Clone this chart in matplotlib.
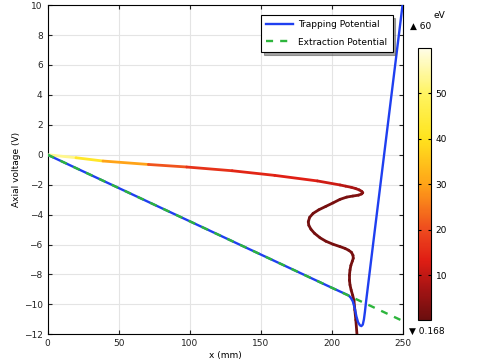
#!/usr/bin/env python3

import numpy as np
import matplotlib
matplotlib.use('Agg')
import matplotlib.pyplot as plt
from matplotlib.collections import LineCollection
from matplotlib.colors import LinearSegmentedColormap, Normalize

# trapping potential (blue)
trap_x = [0, 50, 100, 150, 200, 212, 213.5, 215, 216.3, 217.5, 218.7, 220, 221, 222, 222.8, 223.5, 224.2,
          230, 240, 250]
trap_v = [0, -2.22, -4.44, -6.66, -8.88, -9.4, -9.55, -9.8, -10.25, -10.8, -11.2, -11.4, -11.45, -11.35,
          -11.0, -10.5, -9.9, -5.4, 2.3, 10]

# extraction potential (green dashed)
extr_x = [0, 250]
extr_v = [0, -11.1]

# particle trajectory, coloured by kinetic energy (eV)
traj_x = [0, 20, 39, 71, 98, 130, 160, 190, 206, 210, 214, 217, 219.5, 221.3, 222, 221.2, 219, 215,
          210.7, 206, 201, 196, 191, 187, 184.6, 183.6, 184, 185.5, 188, 191.9, 196, 201, 206, 209.5,
          212, 214, 215.1, 215.3, 214.6, 213.6, 213, 212.6, 212.6, 213, 213.8, 214.9, 215.8, 216.4,
          217.1, 217.9]
traj_v = [0, -0.2, -0.42, -0.65, -0.82, -1.07, -1.38, -1.75, -2.02, -2.1, -2.18, -2.26, -2.35, -2.45,
          -2.54, -2.62, -2.7, -2.76, -2.83, -2.98, -3.22, -3.45, -3.68, -3.92, -4.18, -4.48, -4.72,
          -4.98, -5.25, -5.55, -5.78, -5.98, -6.14, -6.26, -6.38, -6.52, -6.72, -6.92, -7.12, -7.4,
          -7.7, -8.05, -8.37, -8.7, -9.04, -9.4, -9.75, -10.37, -11.04, -12.0]
traj_e = [58, 48, 36, 24, 18, 15, 14, 13, 10, 9, 8, 7, 6, 5, 4.2, 3.6, 3.0, 2.6,
          2.3, 2.1, 1.9, 1.8, 1.7, 1.6, 1.5, 1.4, 1.4, 1.5, 1.6, 1.7, 1.8, 1.9, 2.0, 2.0,
          2.0, 1.9, 1.8, 1.7, 1.6, 1.5, 1.5, 1.5, 1.5, 1.5, 1.4, 1.4, 1.3, 1.2, 1.1, 1.0]

e_min, e_max = 0.168, 60
cbar_ticks = [10, 20, 30, 40, 50]

cmap = LinearSegmentedColormap.from_list('thermal_light', [
    (0.0, '#6a0e0e'), (0.12, '#a81414'), (0.22, '#e01e14'), (0.33, '#ee4a1e'), (0.5, '#ffa418'),
    (0.67, '#ffe41e'), (0.83, '#fff460'), (1.0, '#fffde8')])
norm = Normalize(e_min, e_max)

plt.rcParams['font.size'] = 6.5
plt.rcParams['font.family'] = 'DejaVu Sans'

fig = plt.figure(figsize=(4.85, 3.63), dpi=100)
ax = fig.add_axes([0.098, 0.079, 0.732, 0.907])

ax.grid(True, color='#e4e4e4', linewidth=0.8)
ax.set_axisbelow(True)

pts = np.column_stack([traj_x, traj_v])
segs = np.stack([pts[:-1], pts[1:]], axis=1)
seg_e = [(a + b) / 2 for a, b in zip(traj_e[:-1], traj_e[1:])]
lc = LineCollection(segs, cmap=cmap, norm=norm, linewidth=2.0, capstyle='round', joinstyle='round', zorder=3)
lc.set_array(np.array(seg_e))
ax.add_collection(lc)

ax.plot(trap_x, trap_v, color='#1f3ff0', linewidth=1.7, label='Trapping Potential', zorder=4)
ax.plot(extr_x, extr_v, color='#2db53c', linewidth=1.7, linestyle=(0, (3, 3)), label='Extraction Potential', zorder=5)

ax.set_xlim(0, 250)
ax.set_ylim(-12, 10)
ax.set_xticks([0, 50, 100, 150, 200, 250])
ax.set_yticks(range(-12, 11, 2))
ax.tick_params(direction='in', top=True, right=True, length=3, colors='#222222')
ax.set_xlabel('x (mm)', labelpad=2)
ax.set_ylabel('Axial voltage (V)', labelpad=2)

leg = ax.legend(loc='upper right', bbox_to_anchor=(0.972, 0.970), borderaxespad=0, fancybox=False,
                shadow=True, framealpha=1, edgecolor='black', borderpad=0.6, handlelength=2.9,
                handletextpad=0.6, labelspacing=0.9)
leg.get_frame().set_linewidth(0.8)

cax = fig.add_axes([0.862, 0.1185, 0.026, 0.75])
cb = fig.colorbar(matplotlib.cm.ScalarMappable(norm=norm, cmap=cmap), cax=cax, ticks=cbar_ticks)
cb.outline.set_linewidth(0.8)
cax.tick_params(direction='in', left=True, right=True, length=2, labelsize=6.5)

fig.text(0.905, 0.958, 'eV', ha='center', va='center', fontsize=6.5)
fig.text(0.845, 0.928, '\u25b2 60', ha='left', va='center', fontsize=6.5)
fig.text(0.843, 0.088, '\u25bc 0.168', ha='left', va='center', fontsize=6.5)

plt.savefig('out.png', dpi=100)
